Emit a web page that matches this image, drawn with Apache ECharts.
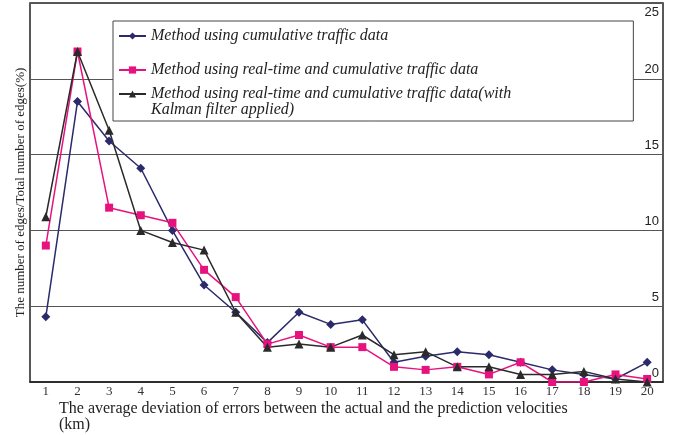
<!DOCTYPE html>
<html>
<head>
<meta charset="utf-8">
<script src="https://cdn.jsdelivr.net/npm/echarts@6/dist/echarts.min.js"></script>
<style>
  html, body { margin: 0; padding: 0; background: #fff; }
  #main { width: 676px; height: 435px; }
</style>
</head>
<body>
<div id="main"></div>
<script>
// x categories: average deviation (km)
const categories = ['1','2','3','4','5','6','7','8','9','10','11','12','13','14','15','16','17','18','19','20'];
const yTicks = [0, 5, 10, 15, 20, 25];

const seriesNames = [
    'Method using cumulative traffic data',
    'Method using real-time and cumulative traffic data',
    'Method using real-time and cumulative traffic data(with\nKalman filter applied)'
];

const cumulative = [4.3, 18.5, 15.9, 14.1, 10.0, 6.4, 4.6, 2.6, 4.6, 3.8, 4.1, 1.3, 1.7, 2.0, 1.8, 1.3, 0.8, 0.5, 0.2, 1.3];
const realTime   = [9.0, 21.8, 11.5, 11.0, 10.5, 7.4, 5.6, 2.5, 3.1, 2.3, 2.3, 1.0, 0.8, 1.0, 0.5, 1.3, 0.0, 0.0, 0.5, 0.2];
const kalman     = [10.9, 21.8, 16.6, 10.0, 9.2, 8.7, 4.6, 2.3, 2.5, 2.3, 3.1, 1.8, 2.0, 1.0, 1.0, 0.5, 0.5, 0.7, 0.2, 0.0];

let myChart = echarts.init(document.getElementById('main'));

const legendText = {
    fontFamily: 'Liberation Serif',
    fontStyle: 'italic',
    fontSize: 16,
    color: '#222',
    lineHeight: 15
};

myChart.setOption({
    animation: false,
    backgroundColor: '#fff',
    title: {
        text: 'The average deviation of errors between the actual and the prediction velocities\n(km)',
        left: 59,
        top: 401,
        padding: 0,
        textStyle: {
            fontFamily: 'Liberation Serif',
            fontSize: 16,
            fontWeight: 'normal',
            color: '#222',
            lineHeight: 16
        }
    },
    legend: [{
        data: [seriesNames[0], seriesNames[1]],
        orient: 'vertical',
        left: 113,
        top: 21,
        padding: [7, 155, 43, 5],
        itemGap: 18,
        itemWidth: 27,
        itemHeight: 9,
        borderColor: '#444',
        borderWidth: 1,
        backgroundColor: '#fff',
        textStyle: legendText
    }, {
        data: [seriesNames[2]],
        orient: 'vertical',
        left: 118,
        top: 70,
        padding: 0,
        itemWidth: 27,
        itemHeight: 9,
        formatter: function (name) {
            return '{t|' + name.replace('\n', '}\n{t|') + '}';
        },
        textStyle: Object.assign({}, legendText, {
            rich: { t: Object.assign({}, legendText, { lineHeight: 16 }) },
            padding: [16, 0, 0, 0]
        })
    }],
    grid: {
        left: 30,
        right: 13,
        top: 3,
        bottom: 53,
        show: true,
        borderColor: '#222',
        borderWidth: 1.5
    },
    xAxis: {
        type: 'category',
        data: categories,
        boundaryGap: true,
        axisLine: { lineStyle: { color: '#222', width: 1.5 } },
        axisTick: { inside: true, length: 4, lineStyle: { color: '#222' } },
        axisLabel: {
            margin: 3,
            fontFamily: 'Liberation Serif',
            fontSize: 13,
            color: '#333'
        }
    },
    yAxis: [{
        type: 'value',
        position: 'right',
        min: 0,
        max: 25,
        interval: 5,
        axisLine: { show: false },
        axisTick: { show: false },
        splitLine: { lineStyle: { color: '#555', width: 1.2 } },
        axisLabel: {
            inside: true,
            margin: 4,
            fontFamily: 'Liberation Sans',
            fontSize: 13,
            color: '#222',
            formatter: function (v) {
                return v === 25 ? '{dn|' + v + '}' : '{up|' + v + '}';
            },
            rich: {
                up: { padding: [0, 0, 18, 0], fontFamily: 'Liberation Sans', fontSize: 13, color: '#222' },
                dn: { padding: [18, 0, 0, 0], fontFamily: 'Liberation Sans', fontSize: 13, color: '#222' }
            }
        }
    }, {
        type: 'value',
        position: 'left',
        min: 0,
        max: 25,
        interval: 5,
        name: 'The number of edges/Total number of edges(%)',
        nameLocation: 'middle',
        nameGap: 3,
        nameRotate: 90,
        nameTextStyle: {
            fontFamily: 'Liberation Serif',
            fontSize: 13,
            color: '#222'
        },
        axisLine: { show: false },
        axisTick: { show: false },
        axisLabel: { show: false },
        splitLine: { show: false }
    }],
    series: [{
        name: seriesNames[0],
        type: 'line',
        data: cumulative,
        symbol: 'diamond',
        symbolSize: 9,
        color: '#2b2a6b',
        lineStyle: { width: 1.5 }
    }, {
        name: seriesNames[1],
        type: 'line',
        data: realTime,
        symbol: 'rect',
        symbolSize: 8,
        color: '#e8127f',
        lineStyle: { width: 1.5 }
    }, {
        name: seriesNames[2],
        type: 'line',
        data: kalman,
        symbol: 'triangle',
        symbolSize: 9,
        color: '#2a2a2a',
        lineStyle: { width: 1.5 }
    }]
});
</script>
</body>
</html>
